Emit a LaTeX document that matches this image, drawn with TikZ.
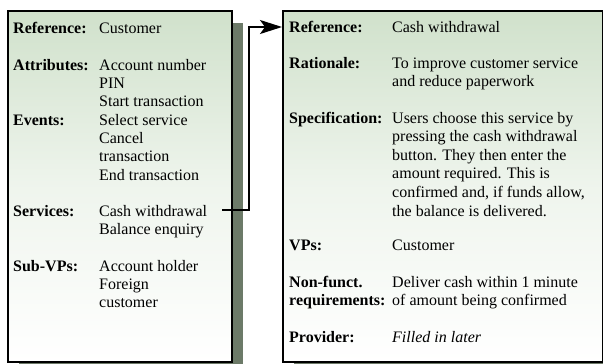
\documentclass[tikz,border=0pt]{standalone}
\usepackage{fontspec}
\setmainfont{Liberation Serif}
\usetikzlibrary{arrows.meta, shadows}
\definecolor{boxgreen}{RGB}{208,225,203}
\definecolor{shadowgreen}{RGB}{108,122,104}
\newcommand{\toplines}[1]{\begin{tabular}[t]{@{}l@{}}#1\end{tabular}}

\begin{document}
\begin{tikzpicture}[x=1pt, y=-1pt,
  vpbox/.style={draw=black, line width=1.6pt, anchor=north west, inner sep=0,
    top color=boxgreen, bottom color=white, middle color=boxgreen!35!white,
    drop shadow={shadow xshift=11pt, shadow yshift=-12pt, fill=shadowgreen, opacity=1}},
  lbl/.style={anchor=base west, inner sep=0, font=\fontsize{16}{18.4}\selectfont\bfseries},
  val/.style={anchor=base west, inner sep=0, font=\fontsize{16}{18.4}\selectfont},
  conn/.style={line width=1.8pt, -{Stealth[length=22pt, width=14pt, inset=5pt]}}]
\clip (0,0) rectangle (603,364);
\useasboundingbox (0,0) rectangle (603,364);

%Viewpoint box
\node[vpbox, minimum width=224pt, minimum height=351pt] (vpCust) at (7,10) {};
\node[lbl] (lRefL) at (13,33) {Reference:};
\node[val] (vRefL) at (99,33) {Customer};
\node[lbl] (lAttr) at (13,70) {Attributes:};
\node[val] (vAttr) at (99,70) {\toplines{Account number\\PIN\\Start transaction}};
\node[lbl] (lEvt) at (13,125) {Events:};
\node[val] (vEvt) at (99,125) {\toplines{Select service\\Cancel\\transaction\\End transaction}};
\node[lbl] (lSvc) at (13,216) {Services:};
\node[val] (vSvc) at (99,216) {\toplines{Cash withdrawal\\Balance enquiry}};
\node[lbl] (lSub) at (13,271) {Sub-VPs:};
\node[val] (vSub) at (99,271) {\toplines{Account holder\\Foreign\\customer}};

%Service box
\node[vpbox, minimum width=320pt, minimum height=351pt] (svCash) at (282,10) {};
\node[lbl] (lRefR) at (289,32) {Reference:};
\node[val] (vRefR) at (392,32) {Cash withdrawal};
\node[lbl] (lRat) at (289,68) {Rationale:};
\node[val] (vRat) at (392,68) {\toplines{To improve customer service\\and reduce paperwork}};
\node[lbl] (lSpec) at (289,123) {Specification:};
\node[val, font=\fontsize{16}{18.6}\selectfont] (vSpec) at (392,123) {\toplines{Users choose this service by\\pressing the cash withdrawal\\button. They then enter the\\amount required. This is\\confirmed and, if funds allow,\\the balance is delivered.}};
\node[lbl] (lVP) at (289,250) {VPs:};
\node[val] (vVP) at (392,250) {Customer};
\node[lbl] (lNF) at (289,287) {\toplines{Non-funct.\\requirements:}};
\node[val] (vNF) at (392,287) {\toplines{Deliver cash within 1 minute\\of amount being confirmed}};
\node[lbl] (lProv) at (289,342) {Provider:};
\node[val] (vProv) at (392,342) {\itshape Filled in later};

%Link from service to its description
\coordinate (cw) at (222,210);
\coordinate (tip) at (282,27);
\draw[conn] (cw) -- ++(27,0) |- (tip);
\end{tikzpicture}
\end{document}
